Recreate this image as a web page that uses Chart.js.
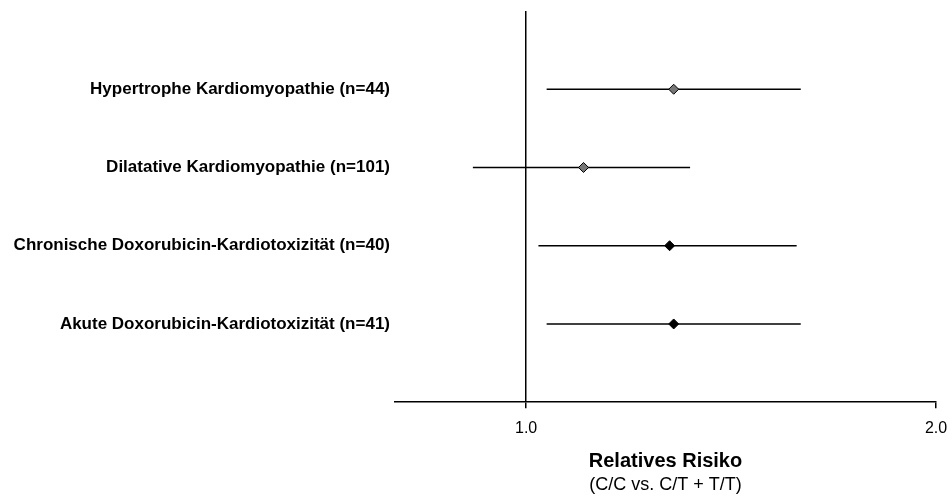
<!DOCTYPE html>
<html>
<head>
<meta charset="utf-8">
<script src="https://cdn.jsdelivr.net/npm/chart.js@4.4.1/dist/chart.umd.min.js"></script>
<style>
  body { margin: 0; background: #fff; }
  canvas { display: block; }
</style>
</head>
<body>
<canvas id="forest" width="952" height="500"></canvas>
<script>
// groups, top to bottom
var categories = ['Hypertrophe Kardiomyopathie (n=44)', 'Dilatative Kardiomyopathie (n=101)', 'Chronische Doxorubicin-Kardiotoxizität (n=40)', 'Akute Doxorubicin-Kardiotoxizität (n=41)'];
var relRisk = [1.36, 1.14, 1.35, 1.36];
var ciLow = [1.05, 0.87, 1.03, 1.05];
var ciHigh = [1.67, 1.40, 1.66, 1.67];
var markerColors = ['#777777', '#777777', '#000000', '#000000'];
var xTicks = [1.0, 2.0];

var FONT = "'Liberation Sans', Arial, sans-serif";
var n = categories.length;

var datasets = [];
// point estimates (diamonds), drawn on top
datasets.push({
    data: relRisk.map(function (v, i) { return { x: v, y: n - i }; }),
    pointStyle: 'rectRot',
    pointRadius: 5,
    backgroundColor: markerColors,
    borderColor: '#000',
    borderWidth: 1,
    order: 0
});
// confidence intervals
categories.forEach(function (cat, i) {
    datasets.push({
        data: [{ x: ciLow[i], y: n - i }, { x: ciHigh[i], y: n - i }],
        showLine: true,
        borderColor: '#000',
        borderWidth: 1.5,
        pointRadius: 0,
        order: 1
    });
});

var ctx = document.getElementById('forest').getContext('2d');
new Chart(ctx, {
    type: 'scatter',
    data: { datasets: datasets },
    options: {
        responsive: false,
        animation: false,
        layout: { padding: { top: 11, right: 0, bottom: 4, left: 0 } },
        plugins: {
            legend: { display: false },
            tooltip: { enabled: false },
            title: {
                display: true,
                position: 'bottom',
                fullSize: false,
                weight: 100,
                text: 'Relatives Risiko',
                color: '#000',
                font: { family: FONT, size: 20, weight: 'bold' },
                padding: { top: 0, bottom: 1 }
            },
            subtitle: {
                display: true,
                position: 'bottom',
                fullSize: false,
                weight: 200,
                text: '(C/C vs. C/T + T/T)',
                color: '#000',
                font: { family: FONT, size: 18 },
                padding: 0
            }
        },
        scales: {
            x: {
                type: 'linear',
                min: 0.68,
                max: 2.0,
                afterBuildTicks: function (scale) {
                    scale.ticks = xTicks.map(function (v) { return { value: v }; });
                },
                afterFit: function (scale) { scale.paddingRight = 16; },
                ticks: {
                    color: '#000',
                    font: { family: FONT, size: 16 },
                    padding: 11,
                    maxRotation: 0,
                    callback: function (v) { return v.toFixed(1); }
                },
                grid: {
                    color: function (c) { return c.tick && c.tick.value === 1 ? '#000' : 'rgba(0,0,0,0)'; },
                    lineWidth: 1.5,
                    tickColor: '#000',
                    tickLength: 6,
                    tickWidth: 1.5
                },
                border: { display: true, color: '#000', width: 1.5 }
            },
            y: {
                type: 'linear',
                min: 0,
                max: n + 1,
                afterBuildTicks: function (scale) {
                    scale.ticks = categories.map(function (c, i) { return { value: n - i }; });
                },
                afterFit: function (scale) {
                    scale.width = 395;
                    scale.paddingTop = 0;
                    scale.paddingBottom = 0;
                },
                ticks: {
                    color: '#000',
                    font: { family: FONT, size: 17, weight: 'bold' },
                    padding: 5,
                    callback: function (v) { return categories[n - v]; }
                },
                grid: { display: false, drawTicks: false },
                border: { display: false }
            }
        }
    }
});
</script>
</body>
</html>
